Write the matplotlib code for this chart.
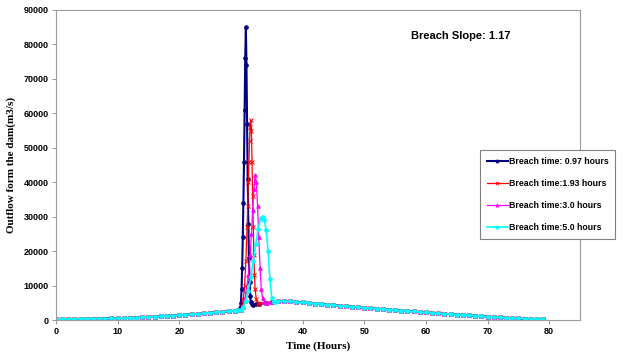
import numpy as np
import matplotlib
matplotlib.use("Agg")
import matplotlib.pyplot as plt

# common hydrograph before the breach (hours, m3/s)
pre_t = [0, 1, 2, 3, 4, 5, 6, 7, 8, 9, 10, 11, 12, 13, 14, 15, 16, 17, 18, 19,
         20, 21, 22, 23, 24, 25, 26, 27, 28, 29, 29.5]
pre_q = [300, 300, 310, 320, 330, 350, 370, 400, 430, 470, 520, 580, 650, 730, 820,
         910, 1000, 1100, 1200, 1300, 1420, 1550, 1680, 1800, 1950, 2100, 2250,
         2400, 2550, 2700, 2850]

# common recession after the breach
post_t = [36, 37, 38, 39, 40, 41, 42, 43, 44, 45, 46, 47, 48, 49, 50, 51, 52, 53, 54,
          55, 56, 57, 58, 59, 60, 61, 62, 63, 64, 65, 66, 67, 68, 69, 70, 71, 72, 73,
          74, 75, 76, 77, 78, 79]
post_q = [5400, 5500, 5400, 5250, 5100, 4950, 4800, 4650, 4500, 4350, 4200, 4050,
          3900, 3750, 3600, 3460, 3320, 3180, 3040, 2900, 2760, 2620, 2480, 2340,
          2200, 2080, 1960, 1840, 1720, 1600, 1480, 1360, 1240, 1120, 1000, 890, 780,
          670, 560, 450, 380, 320, 260, 200]

# breach part of each run
t_097 = [29.8, 29.9, 30.0, 30.1, 30.2, 30.3, 30.4, 30.5, 30.6, 30.7, 30.8, 30.9, 31.0,
         31.1, 31.2, 31.3, 31.4, 31.5, 31.6, 31.8, 32.0, 32.5, 33.0, 34.0, 35.0]
q_097 = [2900, 3500, 5000, 9000, 15000, 24000, 34000, 46000, 61000, 76000, 85000,
         74000, 57000, 41000, 28000, 18000, 11000, 7000, 5200, 4600, 4500, 4600,
         4700, 4900, 5100]

t_193 = [30.0, 30.2, 30.4, 30.6, 30.8, 31.0, 31.1, 31.2, 31.3, 31.4, 31.5, 31.6, 31.7,
         31.8, 31.9, 32.0, 32.1, 32.2, 32.3, 32.5, 32.7, 33.0, 34.0, 35.0]
q_193 = [3000, 4000, 6000, 10000, 17000, 27000, 33000, 40000, 46000, 52000, 56000,
         58000, 55000, 46000, 36000, 27000, 19000, 13000, 9000, 6000, 5000, 4800,
         4950, 5150]

t_30 = [30.0, 30.3, 30.6, 30.9, 31.2, 31.5, 31.7, 31.9, 32.1, 32.3, 32.5, 32.7, 32.9,
        33.1, 33.3, 33.5, 33.8, 34.2, 35.0]
q_30 = [3000, 3800, 5500, 8500, 13000, 19000, 25000, 32000, 38000, 42000, 40000,
        33000, 24000, 15000, 9000, 6500, 5300, 5000, 5150]

t_50 = [30.0, 30.4, 30.8, 31.2, 31.6, 32.0, 32.4, 32.8, 33.2, 33.5, 33.8, 34.1, 34.4,
        34.7, 35.0, 35.3, 35.6]
q_50 = [3000, 3800, 5500, 8500, 12500, 17000, 22000, 26500, 29500, 30000, 29000,
        26000, 20000, 12000, 6500, 5300, 5350]

labels = ["Breach time: 0.97 hours", "Breach time:1.93 hours",
          "Breach time:3.0 hours", "Breach time:5.0 hours"]
colors = ["#000080", "#ff0000", "#ff00ff", "#00ffff"]
markers = ["o", "x", "^", "o"]

fig = plt.figure(figsize=(6.24, 3.56), dpi=100)
ax = fig.add_axes([0.0897, 0.101, 0.8398, 0.871])

runs = [(t_097, q_097), (t_193, q_193), (t_30, q_30), (t_50, q_50)]
widths = [1.5, 0.9, 0.9, 1.2]
lines = []
for i in range(4):
    t = pre_t + runs[i][0] + post_t
    q = pre_q + runs[i][1] + post_q
    ln, = ax.plot(t, q, color=colors[i], marker=markers[i], markersize=2.6,
                  markeredgewidth=0.7, linewidth=widths[i], label=labels[i])
    lines.append(ln)

ax.set_xlim(0, 85)
ax.set_ylim(0, 90000)
ax.set_xticks(range(0, 90, 10))
ax.set_yticks(range(0, 90001, 10000))
for lab in ax.get_xticklabels() + ax.get_yticklabels():
    lab.set_fontweight("bold")
    lab.set_fontfamily("Liberation Sans")
ax.tick_params(labelsize=6.5, length=3, width=0.6, color="#808080", pad=2)
for s in ax.spines.values():
    s.set_color("#9a9a9a")
    s.set_linewidth(0.8)

ax.set_xlabel("Time (Hours)", fontfamily="Liberation Serif", fontweight="bold",
              fontsize=8, labelpad=4)
ax.set_ylabel("Outflow form the dam(m3/s)", fontfamily="Liberation Serif",
              fontweight="bold", fontsize=8, labelpad=6)

ax.text(0.678, 0.905, "Breach Slope: 1.17", transform=ax.transAxes,
        fontfamily="Liberation Sans", fontweight="bold", fontsize=8)

leg = fig.legend(lines, labels, loc="upper left",
                 bbox_to_anchor=(0.762, 0.592), fancybox=False, framealpha=1,
                 edgecolor="#808080", prop={"family": "Liberation Sans",
                                             "weight": "bold", "size": 6.3},
                 handlelength=2.4, handletextpad=0.1, labelspacing=1.5,
                 borderpad=0.8, markerscale=0.8)
leg.get_frame().set_linewidth(0.8)

fig.savefig("out.png", dpi=100)
